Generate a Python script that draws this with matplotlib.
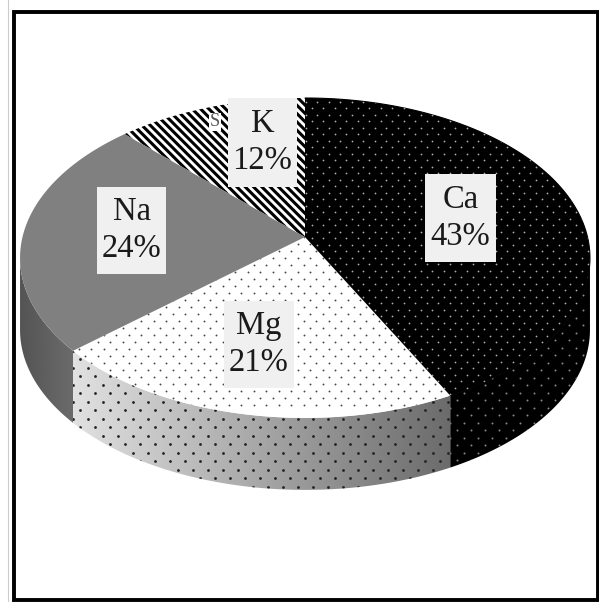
"""3D-look pie chart of cation shares, drawn with a perspective projection of a disc."""
import numpy as np
import matplotlib
matplotlib.use("Agg")
import matplotlib.pyplot as plt
from matplotlib.patches import Polygon, Rectangle

plt.rcParams["font.family"] = ["Liberation Serif", "DejaVu Serif"]
plt.rcParams["hatch.linewidth"] = 2.2

categories = ["Ca", "Mg", "Na", "K"]
shares = [42.5, 21.0, 24.2, 12.3]
label_texts = ["Ca\n43%", "Mg\n21%", "Na\n24%", "K\n12%"]

# pixel geometry of the disc
CX, CY = 305.0, 237.0
A, B, K = 282.5, 157.2, 0.131
DEPTH = 72.0


def project(theta, r=1.0):
    """Clockwise angle from the top (radians) to picture coordinates."""
    u, v = r * np.sin(theta), r * np.cos(theta)
    w = 1 + K * v
    return CX + A * u / w, CY - B * v / w


def arc(start, stop, n=120):
    return np.linspace(start, stop, n)


def clip_poly(ax, xs, ys):
    poly = Polygon(np.column_stack([xs, ys]), closed=True, facecolor="none", edgecolor="none")
    ax.add_patch(poly)
    return poly


def dots(ax, clip, x0, x1, y0, y1, dx, dy, color, size):
    """Staggered dot screen clipped to a slice."""
    px, py = [], []
    for i, y in enumerate(np.arange(y0, y1, dy)):
        off = dx / 2 if i % 2 else 0
        for x in np.arange(x0 + off, x1, dx):
            px.append(x)
            py.append(y)
    pts = ax.scatter(px, py, s=size, c=color, linewidths=0, zorder=4)
    pts.set_clip_path(clip)


def side(ax, start, stop, left_grey, right_grey):
    """Rim wall between two angles, filled with a horizontal gradient."""
    x, y = project(arc(start, stop))
    xs = np.concatenate([x, x[::-1]])
    ys = np.concatenate([y, y[::-1] + DEPTH])
    clip = clip_poly(ax, xs, ys)
    grad = np.linspace(left_grey, right_grey, 256).reshape(1, -1)
    im = ax.imshow(grad, cmap="gray", vmin=0, vmax=1, aspect="auto",
                   extent=[xs.min(), xs.max(), ys.max(), ys.min()], zorder=2)
    im.set_clip_path(clip)
    return clip, xs, ys


fig = plt.figure(figsize=(5.99, 6.02), dpi=100, facecolor="white")
ax = fig.add_axes([0, 0, 1, 1])
ax.axis("off")

edges = np.radians(np.cumsum([0] + shares) * 3.6)

# Rim walls run between the two widest points of the projected disc
widest = np.arccos(-K)
ca_clip, xs, ys = side(ax, widest, edges[1], 0.0, 0.0)
dots(ax, ca_clip, xs.min(), xs.max(), ys.min(), ys.max(), 14, 7.5, "#8a8a8a", 2)
mg_clip, xs, ys = side(ax, edges[1], edges[2], 0.88, 0.42)
dots(ax, mg_clip, xs.min(), xs.max(), ys.min(), ys.max(), 15, 8.5, "#222222", 4)
side(ax, edges[2], 2 * np.pi - widest, 0.33, 0.42)

# Top faces
tops = []
for start, stop in zip(edges[:-1], edges[1:]):
    x, y = project(arc(start, stop))
    tops.append((np.r_[CX, x], np.r_[CY, y]))

ca_top = Polygon(np.column_stack(tops[0]), facecolor="black", edgecolor="black", linewidth=0.8, zorder=3)
mg_top = Polygon(np.column_stack(tops[1]), facecolor="white", edgecolor="none", zorder=3)
na_top = Polygon(np.column_stack(tops[2]), facecolor="#808080", edgecolor="none", zorder=3)
k_top = Polygon(np.column_stack(tops[3]), facecolor="white", edgecolor="black",
                hatch="\\\\\\\\", linewidth=0, zorder=3)
for patch in (ca_top, mg_top, na_top, k_top):
    ax.add_patch(patch)

dots(ax, ca_top, 300, 595, 95, 400, 11.5, 6.5, "#b0b0b0", 1.6)
dots(ax, mg_top, 60, 460, 230, 410, 12.5, 7, "#444444", 1.8)

# Labels: box (left, top, width, height), then the two text lines
label_boxes = [(425, 174, 71, 88), (224, 301, 70, 87), (97, 187, 69, 87), (228, 98, 69, 89)]
for text, (bx, by, bw, bh) in zip(label_texts, label_boxes):
    ax.add_patch(Rectangle((bx, by), bw, bh, facecolor="#f0f0f0", edgecolor="none", zorder=6))
    ax.text(bx + bw / 2, by + bh / 2, text, ha="center", va="center", fontsize=23.5,
            color="#1a1a1a", linespacing=1.28, zorder=7)
# leftover of a label hidden under the K box
ax.text(215, 122, "S", ha="center", va="center", fontsize=13, color="#555555", zorder=5,
        bbox=dict(facecolor="white", edgecolor="none", pad=0.5))

ax.set_xlim(0, 599)
ax.set_ylim(602, 0)
ax.plot([7.5, 7.5], [0, 602], color="#cccccc", linewidth=0.8, zorder=1)
ax.add_patch(Rectangle((14, 12), 584, 587.5, fill=False, edgecolor="black", linewidth=2.8, zorder=8))

fig.savefig("out.png", dpi=100, facecolor="white")
